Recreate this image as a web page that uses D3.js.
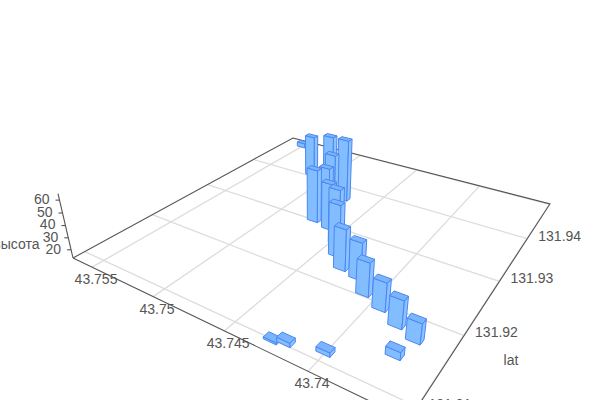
<!DOCTYPE html><html><head><meta charset="utf-8"><script src="https://cdn.jsdelivr.net/npm/d3@7"></script>
<style>html,body{margin:0;background:#fff}svg{display:block}text{font-family:"Liberation Sans",Arial,sans-serif;font-size:14px;fill:#555}</style></head><body><div id="c"></div><script>
const lons=[43.73688,43.7381,43.73941,43.74074,43.74182,43.74301,43.744,43.74471,43.74604,43.74736,43.74727,43.74774,43.74728,43.7488,43.75136,43.75499,43.74264,43.74198,43.74004,43.73721];
const lats=[131.91705,131.91798,131.91936,131.92052,131.92255,131.92309,131.92499,131.92704,131.92944,131.93006,131.93244,131.93513,131.93677,131.93782,131.94062,131.94822,131.91,131.91038,131.91129,131.91429];
const heights=[28.7,34.8,35.6,39.9,43.1,46.7,55.8,59.1,52.6,58.2,53.8,57,67.5,63.9,50.7,17.4,14.5,16.3,16.3,18.9];
const lonTicks=[43.755,43.75,43.745,43.74,43.735];
const latTicks=[131.91,131.92,131.93,131.94,131.95];
const heightTicks=[20,30,40,50,60];

const uS=d3.scaleLinear().domain([43.755,43.74]).range([.079,.769]);
const vS=d3.scaleLinear().domain([131.91,131.95]).range([.037,.997]);
const zS=d3.scaleLinear().domain([13,65]).range([0,1]);
const M={a:213.2,b:358.3,c:73,d:35.9,e:-54.9,f:258,g:-.3002,h:.4721,r:-.059,vx:312,vy:1285};
function proj(u,v,z=0){const k=M.r*z,w=M.g*u+M.h*v+1+k;
  return [(M.a*u+M.b*v+M.c+M.vx*k)/w,(M.d*u+M.e*v+M.f+M.vy*k)/w];}
const svg=d3.select("#c").append("svg").attr("width",600).attr("height",400);
const line=d3.line();
const GRID="#dcdcdc",AXIS="#555";
const floor=svg.append("g").attr("fill","none");
lonTicks.forEach(t=>floor.append("path").attr("d",line([proj(uS(t),0),proj(uS(t),1)])).attr("stroke",GRID).attr("stroke-width",1.3));
latTicks.forEach(t=>floor.append("path").attr("d",line([proj(0,vS(t)),proj(1,vS(t))])).attr("stroke",GRID).attr("stroke-width",1.3));
const ax=svg.append("g").attr("fill","none").attr("stroke",AXIS).attr("stroke-width",1.1);
ax.append("path").attr("d",line([proj(0,0),proj(1,0),proj(1,1),proj(0,1),proj(0,0)]));
ax.append("path").attr("d",line([proj(0,0),proj(0,0,1)]));
heightTicks.forEach(t=>{const p=proj(0,0,zS(t));ax.append("path").attr("d",line([p,[p[0]-4,p[1]]]));});
const lab=svg.append("g");
lonTicks.slice(0,4).forEach(t=>{const p=proj(uS(t),0);lab.append("text").attr("x",p[0]+4).attr("y",p[1]+12).attr("dy",".35em").attr("text-anchor","middle").text(t);});
latTicks.slice(0,4).forEach(t=>{const p=proj(1,vS(t));lab.append("text").attr("x",p[0]+11).attr("y",p[1]-3).attr("dy",".35em").text(t);});
heightTicks.forEach(t=>{const p=proj(0,0,zS(t));lab.append("text").attr("x",p[0]-10).attr("y",p[1]-1).attr("dy",".35em").attr("text-anchor","end").text(t);});
lab.append("text").attr("x",39.5).attr("y",244).attr("dy",".35em").attr("text-anchor","end").text("высота");
lab.append("text").attr("x",511).attr("y",360).attr("dy",".35em").attr("text-anchor","middle").text("lat");
const du=.018,dv=.01;
const bars=lons.map((l,i)=>({u:uS(l),v:vS(lats[i]),z:zS(heights[i])}));
bars.sort((p,q)=>(M.g*q.u+M.h*q.v)-(M.g*p.u+M.h*p.v));
const gb=svg.append("g").attr("stroke","#4a88f2").attr("stroke-width",1).attr("stroke-linejoin","round");
bars.forEach(B=>{const u0=B.u-du,u1=B.u+du,v0=B.v-dv,v1=B.v+dv,z=B.z;
  const face=(pts,col)=>gb.append("path").attr("d",line(pts)+"Z").attr("fill",col);
  face([proj(u0,v0,0),proj(u1,v0,0),proj(u1,v0,z),proj(u0,v0,z)],"#82bdff");
  face([proj(u1,v0,0),proj(u1,v1,0),proj(u1,v1,z),proj(u1,v0,z)],"#8cc2ff");
  face([proj(u0,v0,z),proj(u1,v0,z),proj(u1,v1,z),proj(u0,v1,z)],"#7ab5fb");
});
</script></body></html>
